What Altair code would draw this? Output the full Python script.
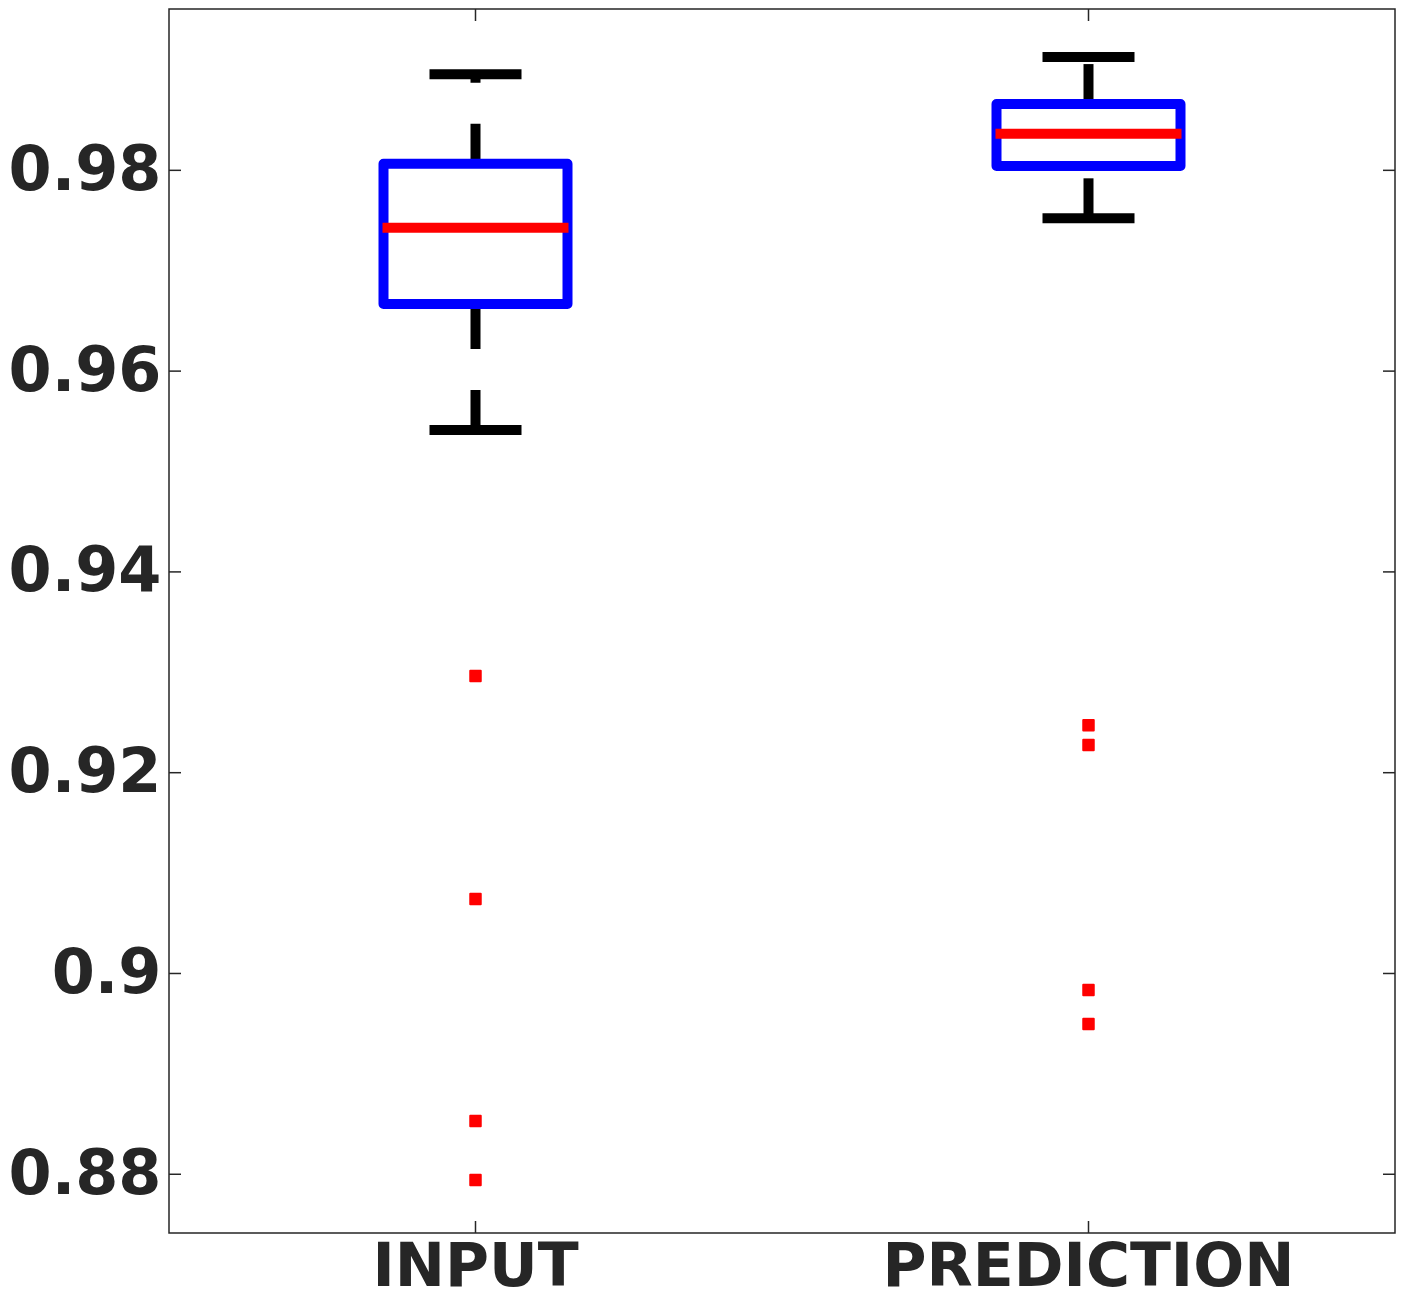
import altair as alt
import pandas as pd

# ---- data ----
categories = ["INPUT", "PREDICTION"]
lower_whisker = [0.95413, 0.97522]
q1 = [0.96668, 0.98043]
median = [0.97428, 0.98365]
q3 = [0.98066, 0.98660]
upper_whisker = [0.98956, 0.99128]

outlier_group = ["INPUT", "INPUT", "INPUT", "INPUT",
                 "PREDICTION", "PREDICTION", "PREDICTION", "PREDICTION"]
outlier_values = [0.92963, 0.90742, 0.88531, 0.87943,
                  0.92472, 0.92276, 0.89836, 0.89497]

y_ticks = [0.88, 0.90, 0.92, 0.94, 0.96, 0.98]
y_domain = [0.87415, 0.99607]

W, H = 1226, 1224
TXT = "#262626"
FONT = "DejaVu Sans"

box_df = pd.DataFrame({
    "cat": categories, "lo": lower_whisker, "q1": q1,
    "med": median, "q3": q3, "hi": upper_whisker,
})
out_df = pd.DataFrame({"cat": outlier_group, "v": outlier_values})
ytick_df = pd.DataFrame({"t": y_ticks})
xtick_df = pd.DataFrame({"cat": categories})

xscale = alt.Scale(type="band", domain=categories, paddingInner=0, paddingOuter=0)
yscale = alt.Scale(domain=y_domain, nice=False, zero=False)

x_axis = alt.Axis(title=None, labelAngle=0, domain=False, ticks=False, grid=False,
                  labelFont=FONT, labelFontWeight="bold", labelFontSize=60,
                  labelColor=TXT, labelPadding=5, labelLimit=2000)
y_axis = alt.Axis(title=None, domain=False, ticks=False, grid=False,
                  values=y_ticks, format=".2~f",
                  labelFont=FONT, labelFontWeight="bold", labelFontSize=62,
                  labelColor=TXT, labelPadding=8, labelLimit=2000)


def X(field):
    return alt.X(field, scale=xscale, axis=x_axis, title=None)


def Y(field):
    return alt.Y(field, scale=yscale, axis=y_axis, title=None)


base = alt.Chart(box_df)

upper = base.mark_rule(color="black", strokeWidth=10, strokeDash=[40, 41],
                       strokeCap="butt").encode(x=X("cat:N"), y=Y("q3:Q"), y2="hi:Q")
lower = base.mark_rule(color="black", strokeWidth=10, strokeDash=[40, 41],
                       strokeCap="butt").encode(x=X("cat:N"), y=Y("lo:Q"), y2="q1:Q")
caps_hi = base.mark_tick(color="black", size=92, thickness=10, opacity=1).encode(
    x=X("cat:N"), y=Y("hi:Q"))
caps_lo = base.mark_tick(color="black", size=92, thickness=10, opacity=1).encode(
    x=X("cat:N"), y=Y("lo:Q"))
box = base.mark_bar(size=184, fill="white", stroke="#0000ff", strokeWidth=10,
                    strokeJoin="round").encode(x=X("cat:N"), y=Y("q1:Q"), y2="q3:Q")
med = base.mark_tick(color="#ff0000", size=186, thickness=10, opacity=1).encode(
    x=X("cat:N"), y=Y("med:Q"))
outs = alt.Chart(out_df).mark_square(color="#ff0000", size=110, opacity=1,
                                     filled=True, stroke="#ff0000",
                                     strokeWidth=2, strokeJoin="round").encode(
    x=X("cat:N"), y=Y("v:Q"))

# inward ticks on all four sides (MATLAB box style)
yt_left = alt.Chart(ytick_df).mark_rule(color=TXT, strokeWidth=1.5).encode(
    y=Y("t:Q"), x=alt.value(0), x2=alt.value(12))
yt_right = alt.Chart(ytick_df).mark_rule(color=TXT, strokeWidth=1.5).encode(
    y=Y("t:Q"), x=alt.value(W - 12), x2=alt.value(W))
xt_bot = alt.Chart(xtick_df).mark_rule(color=TXT, strokeWidth=1.5).encode(
    x=X("cat:N"), y=alt.value(H - 12), y2=alt.value(H))
xt_top = alt.Chart(xtick_df).mark_rule(color=TXT, strokeWidth=1.5).encode(
    x=X("cat:N"), y=alt.value(0), y2=alt.value(12))

chart = alt.layer(
    upper, lower, caps_hi, caps_lo, box, med, outs,
    yt_left, yt_right, xt_bot, xt_top,
).properties(
    width=W, height=H,
    padding={"left": 0, "top": 0, "right": 0, "bottom": 6},
    background="white",
).configure_view(
    stroke=TXT, strokeWidth=1.5,
)

chart.save("out.html", embed_options={"renderer": "svg", "actions": False})
